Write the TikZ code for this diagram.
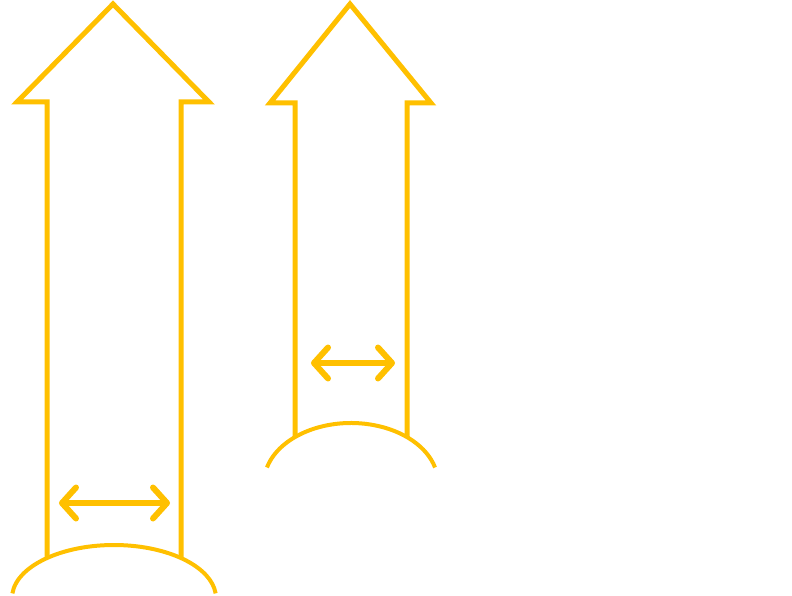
\documentclass[tikz,border=0pt]{standalone}
\usepackage{tikz}
\usetikzlibrary{arrows.meta}
\usetikzlibrary{calc}

\definecolor{amber}{HTML}{FFC000}

\tikzset{
  outline/.style={draw=amber,line width=5pt,miter limit=10},
  rim/.style={draw=amber,line width=4pt},
  span/.style={draw=amber,line width=6pt,line cap=round,
    {Straight Barb[length=14pt,width=31pt,line cap=round,line join=round]}-{Straight Barb[length=14pt,width=31pt,line cap=round,line join=round]}}
}

\begin{document}
\begin{tikzpicture}[x=1pt,y=-1pt]

  \useasboundingbox (0,0) rectangle (792,596);

  % wide arrow
  \coordinate (Wtip) at (113,4);
  \coordinate (Wfoot_l) at (47,557);
  \coordinate (Wfoot_r) at (181,557);
  \path [outline]
    (Wfoot_l) -- (47,102) -- (17,102) -- (Wtip) -- (209,102) -- (181,102) -- (Wfoot_r);
  \path [rim] (114,598) ++(185:102 and 53) arc [start angle=185,end angle=355,x radius=102,y radius=53];

  \coordinate (Wspan_l) at (59,503);
  \coordinate (Wspan_r) at (170,503);
  \path [span] (Wspan_l) -- (Wspan_r);

  % narrow arrow
  \coordinate (Ntip) at (350,4);
  \coordinate (Nfoot_l) at (295,437);
  \coordinate (Nfoot_r) at (407,437);
  \path [outline]
    (Nfoot_l) -- (295,103) -- (270,103) -- (Ntip) -- (431,103) -- (407,103) -- (Nfoot_r);
  \path [rim] (351,483) ++(195:87 and 60) arc [start angle=195,end angle=345,x radius=87,y radius=60];

  \coordinate (Nspan_l) at (311,363);
  \coordinate (Nspan_r) at (395,363);
  \path [span] (Nspan_l) -- (Nspan_r);

\end{tikzpicture}
\end{document}
